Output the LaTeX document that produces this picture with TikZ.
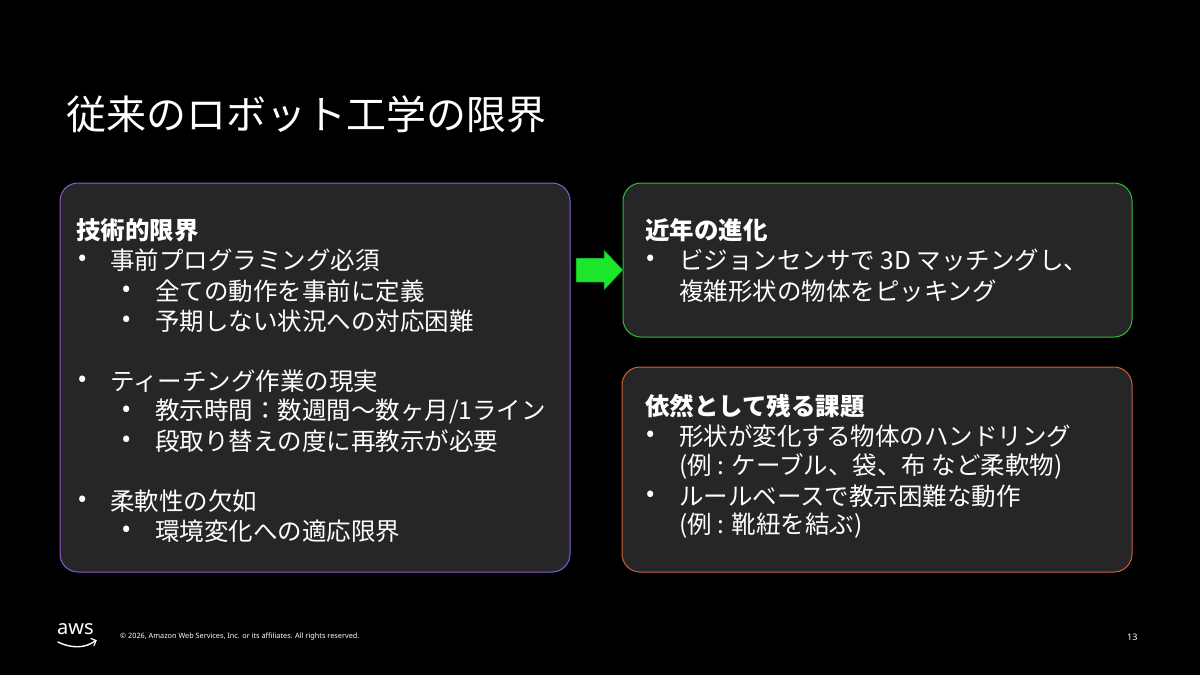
\documentclass[tikz,border=0pt]{standalone}
\usepackage{fontspec}
\setmainfont{Noto Sans CJK JP}
\newfontfamily\latf{Noto Sans}
\begin{document}
\begin{tikzpicture}[x=1pt,y=-1pt,
  box/.style={draw, line width=1pt, rounded corners=18pt, fill=boxfill},
  txt/.style={anchor=west, inner sep=0pt, text=white, font=\fontsize{24.5}{26}\selectfont},
  hd/.style={txt, font=\fontsize{24.5}{26}\selectfont\bfseries}]
\definecolor{boxfill}{HTML}{262626}
\definecolor{purp}{HTML}{8A5CD6}
\definecolor{grn}{HTML}{2FBF3A}
\definecolor{orng}{HTML}{D0603A}
\definecolor{arr}{HTML}{1EE62D}
\fill[black] (0,0) rectangle (1200,675);
\useasboundingbox (0,0) rectangle (1200,675);
\node[txt, font=\fontsize{40}{42}\selectfont] (title) at (66,114) {従来のロボット工学の限界};
% boxes
\draw[box, draw=purp] (60,183) rectangle (570,572);
\draw[box, draw=grn] (623,183) rectangle (1132,337);
\draw[box, draw=orng] (622,367) rectangle (1132,572);
% arrow
\fill[arr, draw=arr!50!black, line width=0.5pt] (576,258) -- (604,258) -- (604,250) -- (623,270) -- (604,290) -- (604,282) -- (576,282) -- cycle;
% left text
\node[hd] (l0) at (76,230) {技術的限界};
\node[txt] (b1) at (78,260) {•}; \node[txt] (l1) at (110,260) {事前プログラミング必須};
\node[txt] (b2) at (122,291) {•}; \node[txt] (l2) at (155,291) {全ての動作を事前に定義};
\node[txt] (b3) at (122,321) {•}; \node[txt] (l3) at (155,321) {予期しない状況への対応困難};
\node[txt] (b4) at (78,381) {•}; \node[txt] (l4) at (110,381) {ティーチング作業の現実};
\node[txt] (b5) at (122,411) {•}; \node[txt] (l5) at (155,411) {教示時間：数週間〜数ヶ月/1ライン};
\node[txt] (b6) at (122,441) {•}; \node[txt] (l6) at (155,441) {段取り替えの度に再教示が必要};
\node[txt] (b7) at (78,501) {•}; \node[txt] (l7) at (110,501) {柔軟性の欠如};
\node[txt] (b8) at (122,531) {•}; \node[txt] (l8) at (155,531) {環境変化への適応限界};
% green text
\node[hd] (g0) at (645,230) {近年の進化};
\node[txt] (gb1) at (646,260) {•}; \node[txt] (g1) at (679,260) {ビジョンセンサで 3D マッチングし、};
\node[txt] (g2) at (679,291) {複雑形状の物体をピッキング};
% orange text
\node[hd] (o0) at (645,406) {依然として残る課題};
\node[txt] (ob1) at (646,436) {•}; \node[txt] (o1) at (679,436) {形状が変化する物体のハンドリング};
\node[txt] (o2) at (679,466) {(例 : ケーブル、袋、布 など柔軟物)};
\node[txt] (ob3) at (646,496) {•}; \node[txt] (o3) at (679,496) {ルールベースで教示困難な動作};
\node[txt] (o4) at (679,526) {(例 : 靴紐を結ぶ)};
% footer
\node[txt, font=\latf\fontsize{20}{20}\selectfont] (aws) at (57,629) {aws};
\draw[white, line width=1.4pt, line cap=round] (58,642) .. controls (72,649) and (86,648) .. (95,641);
\draw[white, line width=1.2pt, line cap=round] (91,638.5) -- (96,640.5) -- (94,645.5);
\node[txt, font=\latf\fontsize{7.3}{8}\selectfont] (copy) at (120,637) {© 2026, Amazon Web Services, Inc. or its affiliates. All rights reserved.};
\node[txt, font=\latf\fontsize{9}{10}\selectfont] (pg) at (1127,637) {13};
\end{tikzpicture}
\end{document}
